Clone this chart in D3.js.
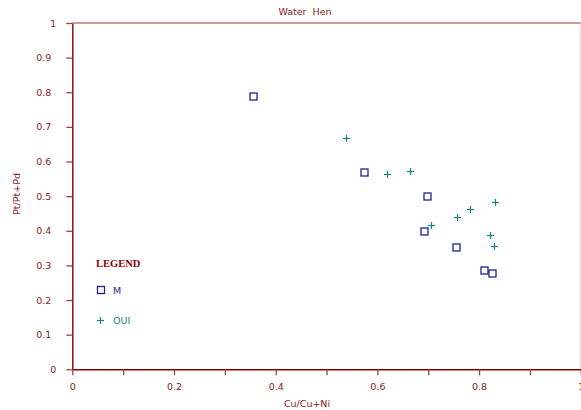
<!DOCTYPE html>
<html><head><meta charset="utf-8">
<script src="https://cdn.jsdelivr.net/npm/d3@7"></script>
<style>body{margin:0;background:#fff}svg{display:block}</style>
</head><body>
<script>
const title = "Water Hen";
const xLabel = "Cu/Cu+Ni";
const yLabel = "Pt/Pt+Pd";
const seriesNames = ["M", "OUI"];
const mX = [0.356, 0.573, 0.697, 0.692, 0.755, 0.809, 0.825];
const mY = [0.789, 0.571, 0.500, 0.399, 0.354, 0.286, 0.279];
const ouiX = [0.538, 0.618, 0.665, 0.706, 0.757, 0.783, 0.831, 0.821, 0.830];
const ouiY = [0.667, 0.563, 0.572, 0.417, 0.440, 0.464, 0.484, 0.387, 0.357];
const xTicks = [0, 0.1, 0.2, 0.3, 0.4, 0.5, 0.6, 0.7, 0.8, 0.9, 1];
const yTicks = [0, 0.1, 0.2, 0.3, 0.4, 0.5, 0.6, 0.7, 0.8, 0.9, 1];

const W = 581, H = 410;
const axisCol = "#8b0000", textCol = "#8b1a1a";
const mCol = "#1f1f96", ouiCol = "#138585";
const svg = d3.select("body").append("svg").attr("width", W).attr("height", H);
const x = d3.scaleLinear().domain([0, 1]).range([72.3, 580.8]);
const y = d3.scaleLinear().domain([0, 1]).range([369.3, 23]);
const font = "DejaVu Sans, Verdana, sans-serif";

// frame top/right
svg.append("line").attr("x1", x(0)).attr("x2", x(1)).attr("y1", y(1)).attr("y2", y(1))
  .attr("stroke", "#c07878").attr("stroke-width", 1.3);
svg.append("line").attr("x1", x(1)-0.5).attr("x2", x(1)-0.5).attr("y1", y(1)).attr("y2", y(0))
  .attr("stroke", "#e8d8d8").attr("stroke-width", 1);

// axes
const fmt = d => String(+d.toFixed(1));
const xAxis = svg.append("g").attr("transform", `translate(0,${y(0)})`)
  .call(d3.axisBottom(x).tickValues(xTicks).tickSize(6).tickSizeOuter(0)
    .tickFormat(d => (Math.round(d*10) % 2 === 0) ? fmt(d) : ""));
const yAxis = svg.append("g").attr("transform", `translate(${x(0)},0)`)
  .call(d3.axisLeft(y).tickValues(yTicks).tickSize(6).tickSizeOuter(0).tickFormat(fmt));
[xAxis, yAxis].forEach(g => {
  g.select(".domain").attr("stroke", axisCol).attr("stroke-width", 1.4);
  g.selectAll(".tick line").attr("stroke", "#a04040").attr("stroke-width", 1.3);
  g.selectAll("text").attr("fill", textCol).attr("font-family", font).attr("font-size", 9.5);
});
xAxis.selectAll("text").attr("dy", "0.71em").attr("y", 14);
yAxis.selectAll("text").attr("x", d => Number.isInteger(d) ? -16 : -21);

// titles
svg.append("text").attr("x", 305).attr("y", 15).attr("text-anchor", "middle")
  .attr("font-family", font).attr("font-size", 9.5).attr("fill", textCol)
  .attr("xml:space", "preserve").text(title.replace(" ", "  "));
svg.append("text").attr("x", 307).attr("y", 407).attr("text-anchor", "middle")
  .attr("font-family", font).attr("font-size", 9.5).attr("fill", textCol).text(xLabel);
svg.append("text").attr("transform", "translate(20,194) rotate(-90)").attr("text-anchor", "middle")
  .attr("font-family", font).attr("font-size", 9.5).attr("fill", textCol).text(yLabel);

// points
const mData = mX.map((v, i) => [v, mY[i]]);
const oData = ouiX.map((v, i) => [v, ouiY[i]]);
const sq = 7;
svg.append("g").selectAll("rect").data(mData).join("rect")
  .attr("x", d => Math.round(x(d[0])) - sq/2 + 0.5).attr("y", d => Math.round(y(d[1])) - sq/2 + 0.5)
  .attr("width", sq).attr("height", sq).attr("fill", "none").attr("stroke", mCol).attr("stroke-width", 1.3);
function drawPlus(g, cx, cy, col) {
  g.append("line").attr("x1", cx-3.5).attr("x2", cx+3.5).attr("y1", cy).attr("y2", cy).attr("stroke", col).attr("stroke-width", 1.2);
  g.append("line").attr("x1", cx).attr("x2", cx).attr("y1", cy-3.5).attr("y2", cy+3.5).attr("stroke", col).attr("stroke-width", 1.2);
}
const pg = svg.append("g");
oData.forEach(d => drawPlus(pg, Math.round(x(d[0])) + 0.5, Math.round(y(d[1])) + 0.5, ouiCol));

// legend
svg.append("text").attr("x", 96).attr("y", 266.5).attr("font-family", "Liberation Serif, Times New Roman, serif")
  .attr("font-weight", "bold").attr("font-size", 10.5).attr("fill", axisCol).text("LEGEND");
svg.append("rect").attr("x", 97.5).attr("y", 286.5).attr("width", sq).attr("height", sq)
  .attr("fill", "none").attr("stroke", mCol).attr("stroke-width", 1.3);
svg.append("text").attr("x", 113).attr("y", 293.5).attr("font-family", font).attr("font-size", 9.5)
  .attr("fill", mCol).text(seriesNames[0]);
drawPlus(svg, 100.5, 320.5, ouiCol);
svg.append("text").attr("x", 113).attr("y", 324).attr("font-family", font).attr("font-size", 9.5)
  .attr("fill", ouiCol).text(seriesNames[1]);
</script>
</body></html>
